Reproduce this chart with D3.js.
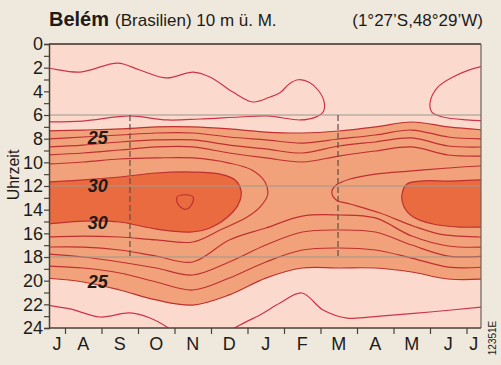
<!DOCTYPE html>
<html><head><meta charset="utf-8">
<script src="https://cdn.jsdelivr.net/npm/d3@7"></script>
<style>body{margin:0;background:#efe9dd;} svg{display:block;font-family:"Liberation Sans",Arial,sans-serif;}</style>
</head><body><svg width="501" height="365"></svg>
<script>
// ---- data: month index 0 = July (centre) ... 12 = next July; hours 0..24
const monthLabels = ["J","A","S","O","N","D","J","F","M","A","M","J","J"];
const hourTicks = d3.range(0, 25);
const gridHours = [6, 12, 18];
const equinoxes = [2.28, 7.98];
const labels = [{t:"25", m:1.4, h:7.9}, {t:"30", m:1.4, h:12.0}, {t:"30", m:1.4, h:15.1}, {t:"25", m:1.4, h:20.1}];

// isotherm crossing hours per month (morning rise / evening fall)
const am25 = [7.35, 7.27, 7.18, 7.01, 7.01, 7.18, 7.44, 7.52, 7.35, 7.01, 6.59, 7.01, 7.27];
const am26 = [8.03, 7.86, 7.69, 7.52, 7.52, 7.86, 8.11, 8.37, 8.03, 7.69, 7.27, 7.86, 8.03];
const am27 = [8.70, 8.54, 8.28, 8.11, 8.11, 8.54, 8.87, 9.21, 8.62, 8.28, 7.94, 8.62, 8.70];
const am28 = [9.38, 9.21, 8.96, 8.70, 8.70, 9.21, 9.63, 9.97, 9.47, 9.04, 8.70, 9.38, 9.47];
const pm28 = [17.16, 17.16, 17.41, 17.92, 18.42, 16.56, 15.55, 14.54, 14.45, 14.70, 16.23, 17.07, 17.16];
const pm27 = [17.75, 18.00, 18.42, 18.93, 19.52, 18.42, 16.99, 15.89, 15.72, 15.89, 16.99, 17.92, 17.92];
const pm26 = [18.76, 18.93, 19.35, 20.11, 20.79, 19.78, 18.42, 17.41, 17.24, 17.41, 18.09, 18.85, 18.85];
const pm25 = [19.78, 20.11, 20.79, 21.63, 22.06, 21.20, 19.78, 18.93, 18.93, 18.93, 19.27, 19.86, 19.86];

// closed / partial isotherms as [month, hour]
const iso24NightA = [[-0.2,2.03],[0,2.03],[0.91,2.37],[1.95,1.61],[2.55,2.20],[3.29,2.87],[4.01,2.37],[4.47,2.79],[5.10,4.06],[5.65,4.90],[6.10,4.50],[6.40,4.10],[6.65,3.35],[6.90,3.02],[7.20,3.25],[7.45,3.95],[7.60,4.90],[7.58,5.70],[7.35,6.20],[6.94,6.42],[6.04,6.08],[5.29,6.17],[4.20,6.34],[3.29,6.42],[2.28,6.08],[0.99,6.51],[0,6.59],[-0.2,6.59]];
const iso24NightB = [[12.2,1.86],[11.87,1.94],[11.13,2.79],[10.69,3.72],[10.50,4.99],[10.55,5.75],[10.86,6.17],[11.51,6.42],[12.2,6.51]];
const iso24EveA = [[-0.2,21.89],[0,22.06],[0.64,22.39],[1.46,23.07],[2.28,22.73],[2.83,23.16],[3.29,23.92],[3.60,24.68]];
const iso24EveB = [[4.81,24.68],[5.29,23.75],[5.84,22.90],[6.39,21.89],[6.99,21.04],[7.57,22.48],[8.23,23.16],[9.13,22.99],[10.50,22.65],[11.90,22.23],[12.2,22.14]];
const iso29L = [[-0.2,10.14],[0,10.14],[1,9.97],[2,9.72],[3,9.63],[4,9.63],[5,10.06],[5.62,10.65],[5.98,11.66],[6.05,12.76],[5.84,13.78],[5.49,14.62],[4.75,15.72],[4,16.73],[3,16.56],[2,16.31],[1,16.23],[0,16.31],[-0.2,16.31]];
const iso29R = [[12.2,10.31],[11.87,10.31],[11,10.48],[10,10.73],[9,10.99],[8.31,11.41],[7.93,11.92],[7.81,12.51],[7.93,13.18],[8.31,13.52],[9.13,14.28],[10.04,15.38],[10.77,16.06],[11.87,16.31],[12.2,16.31]];
const iso30L = [[-0.2,11.66],[0,11.66],[1,11.49],[2,11.24],[3,10.90],[4,10.82],[4.75,10.99],[5.16,11.49],[5.32,12.34],[5.30,13.18],[5.10,14.20],[4.47,15.55],[3.92,15.89],[3,15.64],[2,15.04],[1,14.96],[0,15.21],[-0.2,15.21]];
const iso30R = [[12.2,11.49],[11.87,11.49],[11.05,11.58],[10.23,11.58],[9.87,11.83],[9.73,12.76],[9.79,13.78],[10.04,14.62],[10.58,15.21],[11.32,15.47],[11.87,15.47],[12.2,15.47]];
const iso31 = [[3.57,12.93],[3.81,12.74],[4.01,12.93],[3.98,13.50],[3.80,13.98],[3.60,13.55]];

// ---- drawing
const svg = d3.select("svg");
const L = 49, R = 481, T = 44, B = 328;
const x = d3.scaleLinear().domain([0, 12]).range([46.75, 484.75]);
const y = d3.scaleLinear().domain([0, 24]).range([T, B]);
const C = {pale:"#fbdacd", orange:"#f1a27a", dark:"#e96b3f", line:"#bf3030", night:"#cd3448", text:"#1e1a17"};

svg.append("defs").append("clipPath").attr("id","clip").append("rect")
  .attr("x",L).attr("y",T).attr("width",R-L).attr("height",B-T);
const g = svg.append("g").attr("clip-path","url(#clip)");

g.append("rect").attr("x",L).attr("y",T).attr("width",R-L).attr("height",B-T).attr("fill",C.pale);

const curve = d3.curveCatmullRom.alpha(0.5);
const ln = d3.line().x(d=>x(d[0])).y(d=>y(d[1])).curve(curve);
const pts = arr => arr.map((h,i)=>[i,h]);

g.append("path").attr("fill",C.orange)
  .attr("d", d3.area().x((d,i)=>x(i)).y0(i=>y(am25[i])).y1(i=>y(pm25[i])).curve(curve)(d3.range(13)));
[iso30L, iso30R].forEach(p => g.append("path").attr("fill",C.dark).attr("d", ln(p)+"Z"));

const lines = [am25,am26,am27,am28,pm28,pm27,pm26,pm25].map(pts)
  .concat([iso29L, iso29R, iso30L, iso30R]);
lines.forEach(p => g.append("path").attr("fill","none").attr("stroke",C.line).attr("stroke-width",1.2).attr("d", ln(p)));
[iso24NightA, iso24NightB, iso24EveA, iso24EveB].forEach(p => g.append("path").attr("fill","none")
  .attr("stroke",C.night).attr("stroke-width",1.2).attr("d", ln(p)));
g.append("path").attr("fill","none").attr("stroke",C.line).attr("stroke-width",1.2)
  .attr("d", d3.line().x(d=>x(d[0])).y(d=>y(d[1])).curve(d3.curveCatmullRomClosed)(iso31));

// grid lines & equinox markers
gridHours.forEach(h => g.append("line").attr("x1",L).attr("x2",R).attr("y1",y(h)).attr("y2",y(h))
  .attr("stroke","#9d9a8e").attr("stroke-opacity",0.7).attr("stroke-width",1.4));
equinoxes.forEach(m => g.append("line").attr("x1",x(m)).attr("x2",x(m)).attr("y1",y(6)).attr("y2",y(18))
  .attr("stroke","#5e5048").attr("stroke-width",1.2).attr("stroke-dasharray","6,3"));

labels.forEach(l => g.append("text").attr("x",x(l.m)).attr("y",y(l.h)).attr("dy","0.36em")
  .attr("text-anchor","middle").attr("font-size",18).attr("font-weight","bold").attr("font-style","italic")
  .attr("fill",C.text).text(l.t));

// frame
svg.append("line").attr("x1",L).attr("x2",R).attr("y1",T).attr("y2",T).attr("stroke","#3b2c24").attr("stroke-width",1.5);
svg.append("line").attr("x1",R).attr("x2",R).attr("y1",T).attr("y2",B).attr("stroke","#6b625a").attr("stroke-width",1.2);

// y axis
const ya = svg.append("g").attr("transform",`translate(${L},0)`)
  .call(d3.axisLeft(y).tickValues(hourTicks).tickSize(5).tickFormat(h => h%2===0 ? h : ""));
ya.select(".domain").attr("stroke","#4a4039").attr("stroke-width",1.5);
ya.selectAll(".tick line").attr("stroke","#4a4039").attr("stroke-width",1.2);
ya.selectAll(".tick text").attr("font-size",18).attr("fill",C.text).attr("font-family","Liberation Sans, Arial, sans-serif").attr("x",-6);

// x axis (ticks at month boundaries)
const xa = svg.append("g").attr("transform",`translate(0,${B})`)
  .call(d3.axisBottom(x).tickValues(d3.range(0.5, 12, 1)).tickSize(6).tickFormat(""));
xa.select(".domain").attr("d",`M${L},0H${R}`).attr("stroke","#4a4039").attr("stroke-width",1.5);
xa.selectAll(".tick line").attr("stroke","#4a4039").attr("stroke-width",1.2);
monthLabels.forEach((t,i) => {
  const a = Math.max(x(i-0.5), L), b = Math.min(x(i+0.5), R);
  svg.append("text").attr("x",(a+b)/2).attr("y",350).attr("text-anchor","middle")
    .attr("font-size",18).attr("fill",C.text).text(t);
});

// texts
svg.append("text").attr("transform","translate(19,175) rotate(-90)").attr("text-anchor","middle")
  .attr("font-size",16).attr("fill",C.text).text("Uhrzeit");
const title = svg.append("text").attr("x",49).attr("y",26).attr("fill",C.text);
title.append("tspan").attr("font-size",20).attr("font-weight","bold").text("Belém");
title.append("tspan").attr("font-size",17).attr("dx",6).text("(Brasilien) 10 m ü. M.");
svg.append("text").attr("x",483).attr("y",26).attr("text-anchor","end").attr("font-size",17).attr("fill",C.text).text("(1°27’S,48°29’W)");
svg.append("text").attr("transform","translate(496,338) rotate(-90)").attr("text-anchor","middle")
  .attr("font-size",10).attr("fill",C.text).text("12351E");
</script></body></html>
